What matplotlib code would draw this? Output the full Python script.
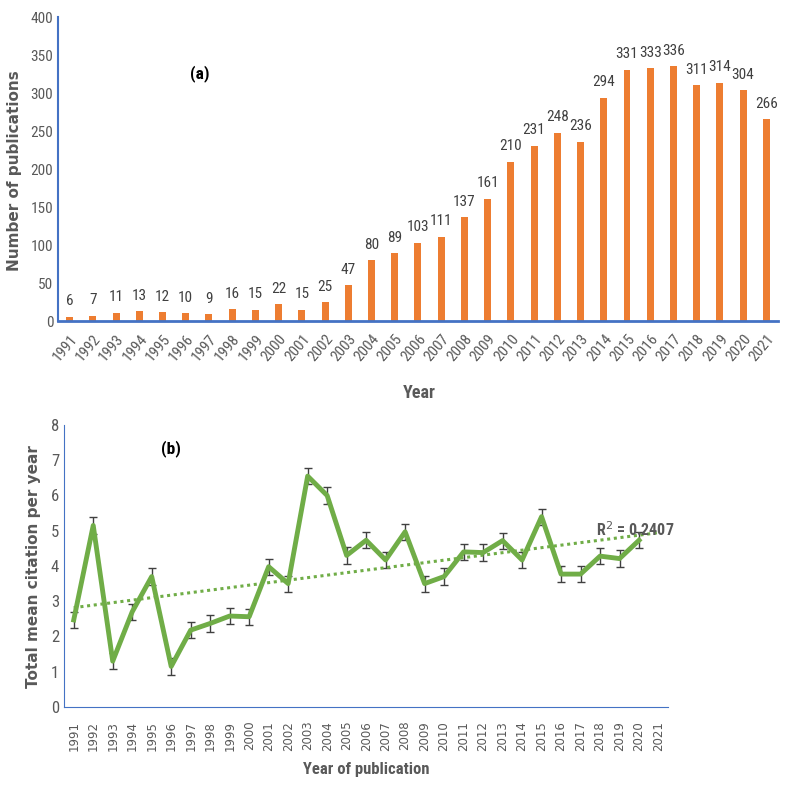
import numpy as np
import matplotlib.pyplot as plt
from matplotlib import font_manager

# pick a narrow font if one is installed (reference looks like Calibri)
installed = {f.name for f in font_manager.fontManager.ttflist}
narrow = 'DejaVu Sans'
for name in ['Liberation Sans Narrow', 'DejaVu Sans Condensed', 'Roboto Condensed',
             'Open Sans Condensed', 'Liberation Sans']:
    if name in installed:
        narrow = name
        break
plt.rcParams['font.family'] = [narrow, 'DejaVu Sans']

# Panel (a): publications per year
years = [str(y) for y in range(1991, 2022)]
publications = [6, 7, 11, 13, 12, 10, 9, 16, 15, 22, 15, 25, 47, 80, 89, 103, 111,
                137, 161, 210, 231, 248, 236, 294, 331, 333, 336, 311, 314, 304, 266]

# Panel (b): total mean citation per year (no value for 2021)
citation_years = [str(y) for y in range(1991, 2021)]
mean_citation = [2.47, 5.15, 1.3, 2.7, 3.7, 1.15, 2.18, 2.37, 2.58, 2.56, 3.98, 3.5,
                 6.55, 6.0, 4.3, 4.73, 4.17, 4.97, 3.5, 3.7, 4.4, 4.38, 4.72, 4.17,
                 5.4, 3.77, 3.77, 4.28, 4.21, 4.73]
citation_err = [0.23] * len(mean_citation)

orange = '#ED7D31'
green = '#70AD47'
blue = '#4472C4'
grey = '#595959'

fig = plt.figure(figsize=(7.89, 7.85), dpi=100)

# ---- (a) bar chart ----
ax1 = fig.add_axes([0.0735, 0.591, 0.9125, 0.387])
x1 = np.arange(len(years))
ax1.bar(x1, publications, width=0.3, color=orange)
for xi, v in zip(x1, publications):
    ax1.text(xi, v + 11, str(v), ha='center', va='bottom', fontsize=11, color='#404040')
ax1.set_xlim(-0.5, len(years) - 0.5)
ax1.set_ylim(0, 400)
ax1.set_yticks(range(0, 401, 50))
ax1.set_xticks(x1)
ax1.set_xticklabels(years, rotation=50, ha='right', rotation_mode='anchor')
ax1.tick_params(axis='both', length=0, colors=grey, labelsize=11)
ax1.tick_params(axis='x', pad=8)
for s in ['top', 'right']:
    ax1.spines[s].set_visible(False)
ax1.spines['left'].set_color(blue)
ax1.spines['left'].set_linewidth(1.5)
ax1.spines['bottom'].set_color(blue)
ax1.spines['bottom'].set_linewidth(2)
ax1.text(0.183, 0.8, '(a)', transform=ax1.transAxes, fontsize=12.5, fontweight='bold', color='black')
fig.text(0.018, 0.783, 'Number of publications', rotation=90, ha='center', va='center',
         fontsize=11, fontweight='bold', color=grey, family='DejaVu Sans')
fig.text(0.532, 0.499, 'Year', ha='center', va='center', fontsize=13, fontweight='bold', color=grey)

# ---- (b) line chart with error bars and trendline ----
ax2 = fig.add_axes([0.0811, 0.0994, 0.7659, 0.3592])
x2 = np.arange(len(citation_years))
ax2.errorbar(x2, mean_citation, yerr=citation_err, color=green, linewidth=3.5,
             ecolor='#404040', elinewidth=1, capsize=3, capthick=1)
coef = np.polyfit(x2, mean_citation, 1)
xt = np.arange(len(years))
ax2.plot(xt, np.polyval(coef, xt), linestyle=(0, (1, 1.2)), color=green, linewidth=2.2)
ax2.text(26.8, 4.85, 'R$^2$ = 0.2407', fontsize=11.5, fontweight='bold', color=grey)
ax2.set_xlim(-0.5, len(years) - 0.5)
ax2.set_ylim(0, 8)
ax2.set_xticks(xt)
ax2.tick_params(axis='both', length=0, colors=grey)
ax2.tick_params(axis='y', labelsize=12)
ax2.tick_params(axis='x', pad=10)
ax2.set_xticklabels(years, rotation=90, family='DejaVu Sans', fontsize=8.5)
for s in ['top', 'right']:
    ax2.spines[s].set_visible(False)
ax2.spines['left'].set_color(blue)
ax2.spines['bottom'].set_color(blue)
ax2.text(0.16, 0.9, '(b)', transform=ax2.transAxes, fontsize=12.5, fontweight='bold', color='black')
fig.text(0.042, 0.278, 'Total mean citation per year', rotation=90, ha='center', va='center',
         fontsize=11, fontweight='bold', color=grey, family='DejaVu Sans')
fig.text(0.464, 0.02, 'Year of publication', ha='center', va='center', fontsize=12,
         fontweight='bold', color=grey)

fig.savefig('out.png', dpi=100)
